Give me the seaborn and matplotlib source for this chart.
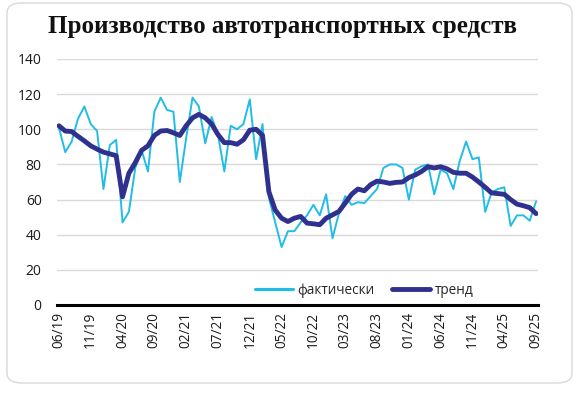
import matplotlib
matplotlib.use("Agg")
import matplotlib.pyplot as plt
from matplotlib.patches import FancyBboxPatch
from matplotlib.lines import Line2D
import seaborn as sns
import pandas as pd
import numpy as np

title = "Производство автотранспортных средств"
tick_labels = ["06/19", "11/19", "04/20", "09/20", "02/21", "07/21", "12/21", "05/22",
               "10/22", "03/23", "08/23", "01/24", "06/24", "11/24", "04/25", "09/25"]
series_names = ["фактически", "тренд"]

fact = [101, 87, 93, 106, 113, 103, 99, 66, 91, 94,
        47, 53, 78, 88, 76, 110, 118, 111, 110, 70,
        95, 118, 113, 92, 107, 97, 76, 102, 100, 103,
        117, 83, 103, 61, 47, 33, 42, 42, 47, 51,
        57, 51, 63, 38, 52, 62, 57, 58.5, 58, 62,
        66, 78, 80, 80, 78, 60, 77, 79, 80, 63,
        77, 75, 66, 82, 93, 83, 84, 53, 64, 66,
        67, 45, 51, 51, 48, 59]

trend = [102, 99, 98.7, 96, 93.4, 90.6, 88.7, 87, 86, 85,
         61.6, 75, 81, 88, 90.6, 96.5, 99, 99.3, 98, 96.5,
         102, 106.5, 108.5, 106.5, 103, 97, 92.4, 92.4, 91.5, 94,
         99.5, 100, 96.5, 64.5, 54, 49.4, 47.5, 49.4, 50.4, 46.6,
         46.2, 45.7, 49.4, 51.3, 53.2, 58, 63, 66, 65, 68.5,
         70.5, 70, 69.2, 69.8, 70, 72.5, 74, 76, 78.7, 78,
         78.7, 77.5, 75.5, 75, 75, 72.8, 70, 67, 63.8, 63.4,
         63, 60, 57.4, 56.5, 55.4, 52]

idx = np.arange(len(fact))
df = pd.DataFrame({"idx": np.concatenate([idx, idx]),
                   "value": fact + trend,
                   "series": [series_names[0]] * len(fact) + [series_names[1]] * len(trend)})

sns.set_theme(style="white")
plt.rcParams["font.family"] = ["Open Sans", "DejaVu Sans"]

fig = plt.figure(figsize=(5.82, 3.98), dpi=100)
fig.patch.set_facecolor("white")

card = FancyBboxPatch((7 / 582, 15 / 398), 565 / 582, 380 / 398,
                      boxstyle="round,pad=0,rounding_size=0.025",
                      transform=fig.transFigure, facecolor="white",
                      edgecolor="#d9d9d9", linewidth=1.0, zorder=-5)
fig.patches.append(card)

ax = fig.add_axes([57 / 582, (398 - 305) / 398, (538 - 57) / 582, (305 - 59) / 398])
ax.set_zorder(2)
ax.set_facecolor("none")

palette = {series_names[0]: "#22bde6", series_names[1]: "#30318f"}
sizes = {series_names[0]: 1.4, series_names[1]: 3.5}
sns.lineplot(data=df, x="idx", y="value", hue="series", size="series",
             palette=palette, sizes=sizes, ax=ax, legend=False)

ax.set_xlim(-0.3, 75.3)
ax.set_ylim(0, 140)
ax.set_yticks(np.arange(0, 141, 20))
ax.yaxis.grid(True, color="#d9d9d9", linewidth=1.0)
ax.xaxis.grid(False)
ax.set_xticks(np.arange(0, 76, 5))
ax.set_xticklabels(tick_labels, rotation=90, fontsize=9.8, color="#1a1a1a")
ax.tick_params(axis="y", labelsize=10, colors="#1a1a1a", length=0, pad=11)
ax.tick_params(axis="x", length=0, pad=5)
ax.set_xlabel("")
ax.set_ylabel("")
for s in ["top", "right", "left"]:
    ax.spines[s].set_visible(False)
ax.spines["bottom"].set_color("black")
ax.spines["bottom"].set_linewidth(2.2)

handles = [Line2D([], [], color=palette[n], lw=sizes[n] * (1.6 if n == series_names[0] else 1.0)) for n in series_names]
ax.legend(handles, series_names, loc="lower right", bbox_to_anchor=(0.885, -0.01),
          ncol=2, frameon=False, fontsize=9.8, handlelength=2.8, handletextpad=0.3,
          columnspacing=1.3, borderaxespad=0.3)

fig.text(283 / 582, 1 - 26 / 398, title, ha="center", va="center", color="#111111",
         fontsize=18.0, fontweight="bold", family=["Liberation Serif", "DejaVu Serif"])

fig.savefig("out.png", dpi=100, facecolor="white")
